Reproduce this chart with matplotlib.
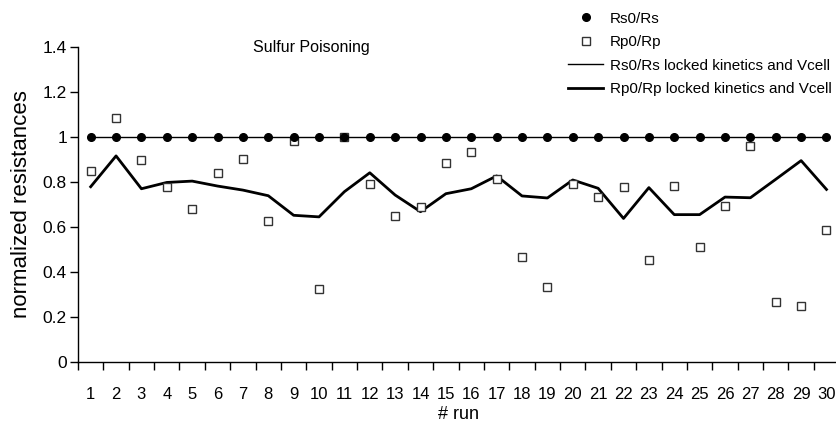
import matplotlib
matplotlib.use("Agg")
import matplotlib.pyplot as plt
import numpy as np

plt.rcParams['font.family'] = ['Liberation Sans', 'DejaVu Sans']

runs = list(range(1, 31))
rs_ratio = [1.0] * 30
rp_ratio = [0.85, 1.084, 0.896, 0.776, 0.68, 0.84, 0.902, 0.625, 0.984, 0.324,
            1.0, 0.793, 0.647, 0.689, 0.886, 0.933, 0.812, 0.465, 0.333, 0.791,
            0.735, 0.778, 0.455, 0.784, 0.511, 0.693, 0.96, 0.267, 0.25, 0.585]
rs_locked = [1.0] * 30
rp_locked = [0.779, 0.916, 0.770, 0.798, 0.804, 0.782, 0.764, 0.739, 0.652, 0.645,
             0.757, 0.841, 0.742, 0.668, 0.748, 0.770, 0.827, 0.738, 0.729, 0.809,
             0.772, 0.638, 0.775, 0.655, 0.655, 0.733, 0.730, 0.812, 0.895, 0.767]
y_ticks = [0, 0.2, 0.4, 0.6, 0.8, 1, 1.2, 1.4]
y_tick_labels = ['0', '0.2', '0.4', '0.6', '0.8', '1', '1.2', '1.4']

fig = plt.figure(figsize=(8.36, 4.22), dpi=100)
ax = fig.add_axes([0.0933, 0.1422, 0.9105, 0.7464])

l1, = ax.plot(runs, rs_locked, color='black', lw=1.0, zorder=2)
l2, = ax.plot(runs, rp_locked, color='black', lw=2.0, zorder=2)
p2, = ax.plot(runs, rp_ratio, 's', mfc='white', mec='#333333', mew=1.0,
              markersize=5.5, ls='none', zorder=3)
p1, = ax.plot(runs, rs_ratio, 'o', color='black', markersize=5.5, ls='none', zorder=4)

ax.set_xlim(0.5, 30.5)
ax.set_ylim(0, 1.4)
ax.set_yticks(y_ticks)
ax.set_yticklabels(y_tick_labels)
ax.set_xticks(np.arange(0.5, 31, 1))
ax.set_xticklabels([])
ax.set_xticks(runs, minor=True)
ax.set_xticklabels([str(r) for r in runs], minor=True)
ax.tick_params(axis='x', which='major', direction='out', length=6, width=1)
ax.tick_params(axis='x', which='minor', length=0, pad=18, labelsize=12)
ax.tick_params(axis='y', direction='out', length=6, width=1, labelsize=12.5, pad=2)
for s in ['top', 'right']:
    ax.spines[s].set_visible(False)
ax.spines['left'].set_linewidth(1)
ax.spines['bottom'].set_linewidth(1)

ax.set_ylabel('normalized resistances', fontsize=16, labelpad=8)
ax.set_xlabel('# run', fontsize=13, labelpad=3)
ax.text(0.2297, 1.0, 'Sulfur Poisoning', transform=ax.transAxes, fontsize=11.5,
        ha='left', va='center')

leg = fig.legend([p1, p2, l1, l2],
                 ['Rs0/Rs', 'Rp0/Rp', 'Rs0/Rs locked kinetics and Vcell',
                  'Rp0/Rp locked kinetics and Vcell'],
                 loc='upper left', bbox_to_anchor=(0.663, 1.005), frameon=False,
                 fontsize=11, handlelength=2.3, handletextpad=0.45, labelspacing=0.62)

fig.savefig('out.png', dpi=100)
